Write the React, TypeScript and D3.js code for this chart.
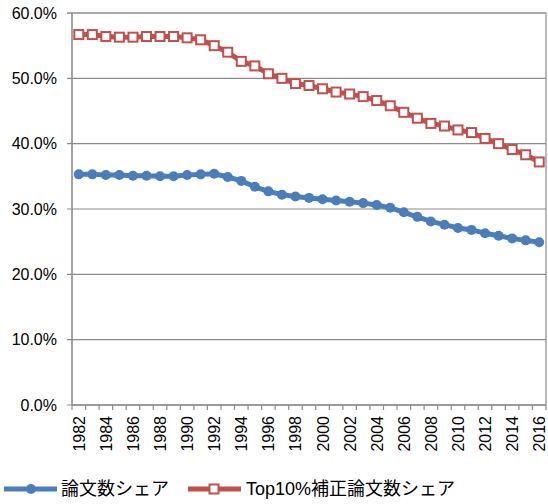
import React from "react";
import * as d3 from "d3";

const years: number[] = d3.range(1982, 2017);
const paperShare: number[] = [
  35.3, 35.3, 35.2, 35.2, 35.1, 35.1, 35.0, 35.0, 35.2, 35.3,
  35.4, 34.9, 34.3, 33.4, 32.7, 32.2, 31.9, 31.7, 31.5, 31.3,
  31.1, 30.9, 30.6, 30.2, 29.5, 28.8, 28.1, 27.6, 27.1, 26.8,
  26.3, 25.9, 25.5, 25.2, 24.9,
];
const top10Share: number[] = [
  56.7, 56.7, 56.4, 56.3, 56.3, 56.4, 56.4, 56.4, 56.2, 55.9,
  55.0, 54.0, 52.6, 51.9, 50.7, 50.0, 49.2, 48.9, 48.4, 47.9,
  47.6, 47.2, 46.6, 45.8, 44.8, 43.9, 43.1, 42.7, 42.1, 41.7,
  40.8, 40.0, 39.1, 38.3, 37.2,
];
const yTicks: number[] = [0, 10, 20, 30, 40, 50, 60];
const seriesNames: string[] = ["論文数シェア", "Top10%補正論文数シェア"];

const W = 548;
const H = 504;
const left = 72;
const right = 546;
const top = 13;
const bottom = 405;
const BLUE = "#4A7EBB";
const RED = "#C0504D";
const FONT = "'Liberation Sans', Arial, 'Noto Sans CJK JP', sans-serif";

export default function App() {
  const x = d3
    .scaleBand<number>()
    .domain(years)
    .range([left, right])
    .paddingInner(0)
    .paddingOuter(0);
  const y = d3.scaleLinear().domain([0, 60]).range([bottom, top]);
  const cx = (yr: number) => (x(yr) as number) + x.bandwidth() / 2;

  const line = d3
    .line<number>()
    .x((_, i) => cx(years[i]))
    .y((d) => y(d));

  const boundaries = years.map((yr) => x(yr) as number).concat([right]);

  return (
    <svg
      width={W}
      height={H}
      style={{ position: "absolute", left: 0, top: 0, background: "#fff" }}
      fontFamily={FONT}
    >
      <rect x={0} y={0} width={W} height={H} fill="#fff" />
      {/* grid lines */}
      {yTicks.map((t) => (
        <g key={t}>
          <line
            x1={left - 5}
            x2={right}
            y1={y(t)}
            y2={y(t)}
            stroke="#8C8C8C"
            strokeWidth={t === 60 ? 1.6 : 1.2}
          />
          <text
            x={57}
            y={y(t)}
            dy="0.36em"
            textAnchor="end"
            fontSize={16}
            fill="#000"
          >
            {t.toFixed(1)}%
          </text>
        </g>
      ))}
      {/* right border */}
      <line x1={right} x2={right} y1={top} y2={bottom} stroke="#8C8C8C" strokeWidth={1.2} />
      {/* y axis */}
      <line x1={left} x2={left} y1={top} y2={bottom} stroke="#8C8C8C" strokeWidth={1.6} />
      {/* x axis */}
      <line x1={left} x2={right} y1={bottom} y2={bottom} stroke="#8C8C8C" strokeWidth={1.6} />
      {boundaries.map((bx, i) => (
        <line key={i} x1={bx} x2={bx} y1={bottom} y2={bottom + 5} stroke="#8C8C8C" strokeWidth={1.2} />
      ))}
      {years
        .filter((yr) => yr % 2 === 0)
        .map((yr) => (
          <text
            key={yr}
            transform={`translate(${cx(yr) + 6},${bottom + 11}) rotate(-90)`}
            textAnchor="end"
            fontSize={16}
            fill="#000"
          >
            {yr}
          </text>
        ))}
      {/* blue series */}
      <path d={line(paperShare) || ""} fill="none" stroke={BLUE} strokeWidth={5} strokeLinejoin="round" />
      {paperShare.map((v, i) => (
        <circle key={i} cx={cx(years[i])} cy={y(v)} r={5} fill={BLUE} />
      ))}
      {/* red series */}
      <path d={line(top10Share) || ""} fill="none" stroke={RED} strokeWidth={5} strokeLinejoin="round" />
      {top10Share.map((v, i) => (
        <rect
          key={i}
          x={cx(years[i]) - 4.5}
          y={y(v) - 4.5}
          width={9}
          height={9}
          fill="#fff"
          stroke={RED}
          strokeWidth={2}
        />
      ))}
      {/* legend */}
      <g>
        <line x1={4} x2={57} y1={489} y2={489} stroke={BLUE} strokeWidth={5} />
        <circle cx={31} cy={489} r={5} fill={BLUE} />
        <text x={61} y={489} dy="0.36em" fontSize={18} fill="#000">
          {seriesNames[0]}
        </text>
        <line x1={188} x2={241} y1={489} y2={489} stroke={RED} strokeWidth={5} />
        <rect x={209.5} y={484.5} width={9} height={9} fill="#fff" stroke={RED} strokeWidth={2} />
        <text x={246} y={489} dy="0.36em" fontSize={18} fill="#000">
          {seriesNames[1]}
        </text>
      </g>
    </svg>
  );
}
